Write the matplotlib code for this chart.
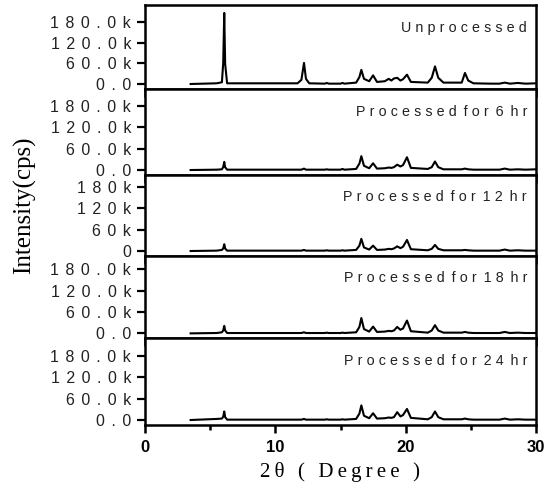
import matplotlib
matplotlib.use("Agg")
import matplotlib.pyplot as plt
from matplotlib.ticker import FixedLocator, FixedFormatter

# 2-theta grid (degrees) and intensities (k counts) for each sample
two_theta = [3.5, 5.5, 5.9, 6.0, 6.08, 6.15, 6.3,
             11.7, 12.0, 12.2, 12.35, 12.6,
             13.8, 13.95, 14.1, 15.0, 15.15, 15.3,
             16.2, 16.45, 16.6, 16.8, 17.2, 17.5, 17.8,
             18.4, 18.7, 18.9, 19.1, 19.35, 19.6, 19.8, 20.1, 20.4,
             21.7, 22.0, 22.25, 22.5, 22.9,
             24.3, 24.55, 24.8, 25.2,
             26.5, 27.2, 27.6, 28.0, 28.6, 29.2, 30.0]

unprocessed = [0, 2, 5, 60, 206, 58, 2,
               2, 12, 61, 15, 2,
               1, 3, 1, 1, 3, 1,
               4, 20, 41, 15, 8, 25, 6,
               8, 15, 10, 16, 18, 10, 14, 27, 6,
               4, 18, 51, 18, 4,
               4, 32, 10, 2,
               1, 1, 4, 1, 3, 1, 2]

hr6 = [0, 1, 2, 8, 23, 8, 1,
       1, 1, 4, 1, 1,
       1, 2, 1, 1, 3, 1,
       3, 18, 39, 12, 5, 19, 4,
       5, 7, 6, 8, 15, 10, 14, 36, 6,
       3, 8, 24, 8, 2,
       2, 4, 2, 1,
       1, 1, 4, 1, 2, 1, 2]

hr12 = [0, 1, 3, 7, 19, 7, 1,
        1, 1, 3, 1, 1,
        1, 2, 1, 1, 2, 1,
        3, 15, 34, 10, 4, 15, 3,
        4, 6, 5, 7, 13, 8, 12, 31, 5,
        2, 6, 17, 6, 2,
        2, 3, 2, 1,
        1, 1, 4, 1, 2, 1, 1]

hr18 = [0, 1, 3, 8, 21, 8, 1,
        1, 1, 3, 1, 1,
        1, 2, 1, 1, 2, 1,
        3, 18, 43, 12, 5, 19, 4,
        5, 7, 6, 8, 18, 10, 14, 36, 6,
        2, 8, 23, 8, 2,
        2, 4, 2, 1,
        1, 1, 4, 1, 2, 1, 1]

hr24 = [0, 3, 4, 9, 24, 8, 1,
        1, 1, 3, 1, 1,
        1, 2, 1, 1, 2, 1,
        3, 18, 41, 12, 5, 19, 4,
        5, 7, 6, 8, 22, 10, 14, 31, 6,
        2, 8, 24, 8, 2,
        2, 4, 2, 1,
        1, 1, 4, 1, 2, 1, 1]

series = [unprocessed, hr6, hr12, hr18, hr24]
names = ["Unprocessed", "Processed for 6 hr", "Processed for 12 hr",
         "Processed for 18 hr", "Processed for 24 hr"]
ytick_vals = [0, 60, 120, 180]
ytick_long = ["0.0", "60.0k", "120.0k", "180.0k"]
ytick_short = ["0", "60k", "120k", "180k"]

# layout (pixels of the 555x492 picture)
heights = [84, 86, 81, 82, 87]
ylims = [(-14.5, 229), (-14, 228), (-14, 213), (-13, 217), (-14, 230)]

SANS = ["Liberation Sans", "DejaVu Sans"]
SERIF = ["Liberation Serif", "DejaVu Serif"]


def spaced(s, sep="\u2009", gap=None):
    # old Origin output is letter-spaced; real spaces become `gap`
    if gap is None:
        gap = sep + " " + sep
    words = [sep.join(list(w)) for w in s.split(" ")]
    return gap.join(words)


fig = plt.figure(figsize=(5.55, 4.92), dpi=100)
gs = fig.add_gridspec(5, 1, height_ratios=heights, hspace=0,
                      left=145/555, right=536/555,
                      top=1-5/492, bottom=1-425/492)

for i in range(5):
    ax = fig.add_subplot(gs[i])
    ax.plot(two_theta, series[i], color="black", lw=1.5)
    ax.set_xlim(0, 30)
    ax.set_ylim(*ylims[i])
    for sp in ax.spines.values():
        sp.set_linewidth(1.8)
    labels = ytick_short if i == 2 else ytick_long
    ax.yaxis.set_major_locator(FixedLocator(ytick_vals))
    ax.yaxis.set_major_formatter(FixedFormatter([spaced(t, "\u2009\u2009") for t in labels]))
    ax.xaxis.set_major_locator(FixedLocator([0, 10, 20, 30]))
    ax.xaxis.set_minor_locator(FixedLocator([5, 15, 25]))
    ax.tick_params(axis="y", direction="out", length=6, width=1.6, pad=4,
                   labelsize=11.5, labelcolor="#222222")
    ax.tick_params(axis="x", which="major", direction="out", length=6, width=1.8)
    ax.tick_params(axis="x", which="minor", direction="out", length=3.5, width=1.8)
    for lab in ax.get_yticklabels():
        lab.set_family(SANS)
    if i < 4:
        ax.tick_params(axis="x", labelbottom=False)
    else:
        ax.tick_params(axis="x", labelsize=12, pad=5)
        for lab in ax.get_xticklabels():
            lab.set_family(SANS)
            lab.set_fontweight("bold")
    ax.text(0.977, 0.73, spaced(names[i], "\u2009\u200a", " \u2009"),
            transform=ax.transAxes, ha="right", va="center", fontsize=10.3,
            family=SANS, color="#222222")

fig.text(25/555, 1-205/492, "Intensity(cps)", rotation=90, ha="center",
         va="center", fontsize=18, family=SERIF)
fig.text(340/555, 1-472/492, spaced("2θ ( Degree )"), ha="center",
         va="center", fontsize=15, family=SERIF)

fig.savefig("out.png", dpi=100)
